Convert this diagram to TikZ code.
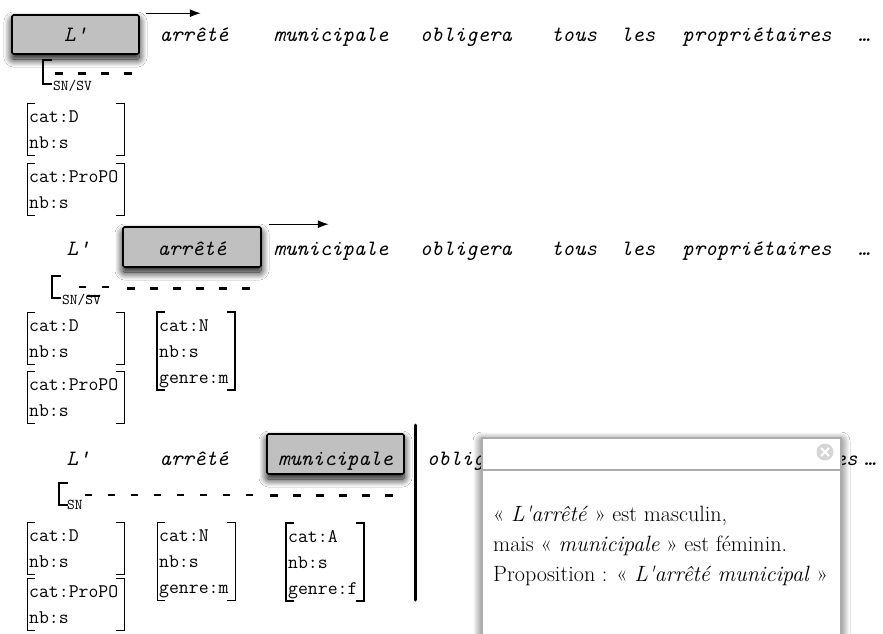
\documentclass[tikz,border=0pt]{standalone}
\usetikzlibrary{arrows.meta,shadows.blur}
\definecolor{boxgray}{RGB}{192,192,192}
\definecolor{popborder}{RGB}{172,172,172}
\definecolor{closegray}{RGB}{214,214,214}
\tikzset{
  word/.style={font=\fontsize{21.9}{26}\selectfont\ttfamily\itshape, inner sep=0pt, anchor=base},
  hlbox/.style={draw=black, line width=1.6pt, fill=boxgray, rounded corners=1.5pt, inner sep=0pt, anchor=base,
    blur shadow={shadow xshift=0pt, shadow yshift=-5pt, shadow blur radius=8pt, shadow blur steps=16, shadow opacity=100}},
  feat/.style={font=\fontsize{19.2}{26}\selectfont\ttfamily, inner xsep=2pt, inner ysep=0pt, align=left, anchor=north west},
  brk/.style={line width=0.9pt},
  brkhl/.style={line width=2pt},
  sub/.style={font=\fontsize{15}{18}\selectfont\ttfamily, inner sep=0pt, anchor=base west},
  sbrk/.style={line width=2.2pt},
  thindash/.style={line width=1.2pt, dash pattern=on 7pt off 16pt},
  thickdash/.style={line width=3pt, dash pattern=on 8pt off 15pt},
  arr/.style={line width=1.3pt, -{Latex[length=11pt,width=8pt]}},
  poptext/.style={font=\fontsize{22.1}{30}\selectfont\rmfamily, inner sep=0pt, anchor=base west},
}
\newcommand\avmbr[2][brk]{%
  \draw[#1] ([xshift=8pt]#2.north west) -- (#2.north west) -- (#2.south west) -- ([xshift=8pt]#2.south west);
  \draw[#1] ([xshift=-8pt]#2.north east) -- (#2.north east) -- (#2.south east) -- ([xshift=-8pt]#2.south east);}
\newcommand\topstrut{\rule{0pt}{19pt}}
\newcommand\botstrut{\rule[-7pt]{0pt}{7pt}}
\newcommand\sq{\XeTeXglyph\XeTeXcharglyph"27\relax}
\begin{document}
\begin{tikzpicture}[x=1pt,y=-1pt]
\useasboundingbox[fill=white] (0,0) rectangle (883,634);

% ---------- Row 1 ----------
\node[word, hlbox, minimum width=127pt, minimum height=39pt, text height=15pt, text depth=0pt] (boxA) at (75.5,42) {L'};
\node[word] (w1b) at (194,42) {arrêté};
\node[word] (w1c) at (331,42) {municipale};
\node[word] (w1d) at (466,42) {obligera};
\node[word] (w1e) at (574,42) {tous};
\node[word] (w1f) at (638,42) {les};
\node[word] (w1g) at (757,42) {propriétaires};
\node[word] (w1h) at (864,42) {…};
\draw[arr] ([xshift=6pt,yshift=1pt]boxA.north east) -- ++(55,0);

\draw[sbrk] (52,60) -- (43,60) -- (43,84) -- (52,84);
\node[sub] (sn1) at (53,90) {SN/SV};
\draw[thickdash] (55,73) -- (133,73);

\node[feat, text width=93pt] (d1) at (27,103) {\topstrut cat:D\\nb:s\botstrut};
\avmbr{d1}
\node[feat, text width=93pt] (p1) at (27,163) {\topstrut cat:ProPO\\nb:s\botstrut};
\avmbr{p1}

% ---------- Row 2 ----------
\node[word] (w2a) at (78,255) {L'};
\node[word, hlbox, minimum width=138pt, minimum height=40pt, text height=16pt, text depth=0pt] (boxB) at (192,255) {arrêté};
\node[word] (w2c) at (331,255) {municipale};
\node[word] (w2d) at (466,255) {obligera};
\node[word] (w2e) at (574,255) {tous};
\node[word] (w2f) at (638,255) {les};
\node[word] (w2g) at (757,255) {propriétaires};
\node[word] (w2h) at (864,255) {…};
\draw[arr] ([xshift=7pt,yshift=2pt]boxB.north east) -- ++(60,0);

\draw[sbrk] (61,276) -- (52,276) -- (52,298) -- (61,298);
\node[sub] (sn2) at (62,304) {SN/SV};
\draw[line width=1.2pt] (87,296) -- (100,296);
\draw[thindash] (79,287) -- (112,287);
\draw[thickdash] (127,288) -- (251,288);

\node[feat, text width=93pt] (d2) at (27,312) {\topstrut cat:D\\nb:s\botstrut};
\avmbr{d2}
\node[feat, text width=93pt] (p2) at (27,371) {\topstrut cat:ProPO\\nb:s\botstrut};
\avmbr{p2}
\node[feat, text width=74pt] (n2) at (157,312) {\topstrut cat:N\\nb:s\\genre:m\botstrut};
\avmbr[brkhl]{n2}

% ---------- Row 3 ----------
\node[word] (w3a) at (78,465) {L'};
\node[word] (w3b) at (194,465) {arrêté};
\node[word, hlbox, minimum width=137pt, minimum height=40pt, text height=22pt, text depth=0pt] (boxC) at (335.5,465) {municipale};
\node[word] (w3d) at (473,465) {obligera};
\node[word] (w3e) at (590,465) {tous};
\node[word] (w3f) at (660,465) {les};
\node[word] (w3g) at (783,465) {propriétaires};
\node[word] (w3h) at (870,465) {…};
\draw[line width=3pt, line cap=round] (415,425) -- (415,600);

\draw[sbrk] (68,483) -- (59,483) -- (59,505) -- (68,505);
\node[sub] (sn3) at (67,509) {SN};
\draw[thindash] (85,495) -- (260,495);
\draw[thickdash] (270,495) -- (396,495);

\node[feat, text width=93pt] (d3) at (27,522) {\topstrut cat:D\\nb:s\botstrut};
\avmbr{d3}
\node[feat, text width=93pt] (p3) at (27,578) {\topstrut cat:ProPO\\nb:s\botstrut};
\avmbr{p3}
\node[feat, text width=74pt] (n3) at (157,522) {\topstrut cat:N\\nb:s\\genre:m\botstrut};
\avmbr{n3}
\node[feat, text width=74pt] (a3) at (286,523) {\topstrut cat:A\\nb:s\\genre:f\botstrut};
\avmbr[brkhl]{a3}

% ---------- Popup ----------
\path[fill=white, blur shadow={shadow xshift=0pt, shadow yshift=-3pt, shadow blur radius=9pt, shadow blur steps=12, shadow opacity=75}] (482,438) rectangle (841,660);
\draw[popborder, line width=1.6pt] (482,660) -- (482,438) -- (841,438) -- (841,660);
\draw[popborder, line width=1.6pt] (482,470) -- (841,470);
\fill[closegray] (825,452) circle (8.5pt);
\draw[white, line width=1.8pt] (821,448) -- (829,456) (821,456) -- (829,448);
\node[poptext] (t1) at (493,521) {« \textit{L\sq arrêté} » est masculin,};
\node[poptext] (t2) at (493,551) {mais « \textit{municipale} » est féminin.};
\node[poptext] (t3) at (493,581) {Proposition : « \textit{L\sq arrêté municipal} »};
\end{tikzpicture}
\end{document}
